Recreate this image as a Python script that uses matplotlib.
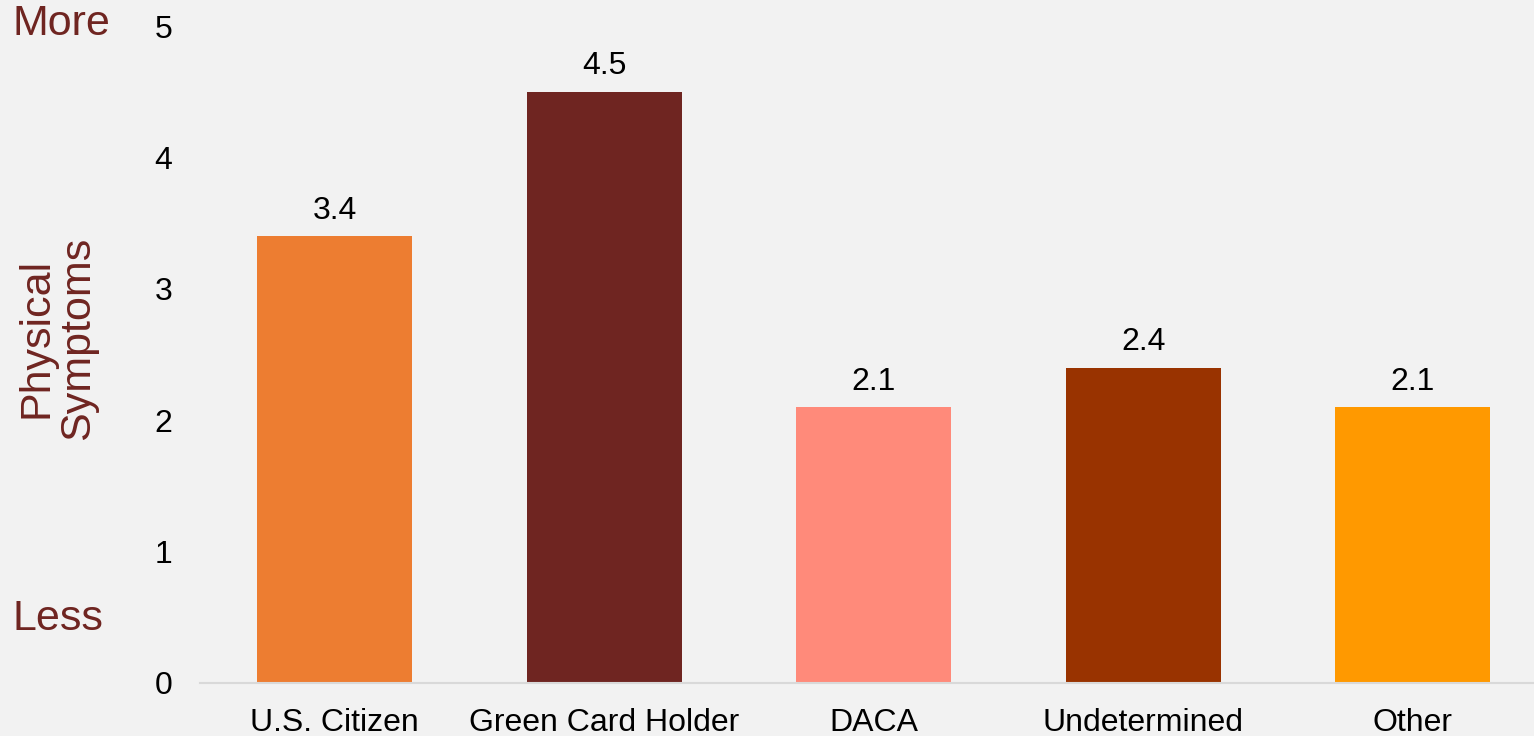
import matplotlib.pyplot as plt

plt.rcParams['font.family'] = ['Liberation Sans', 'DejaVu Sans']

categories = ['U.S. Citizen', 'Green Card Holder', 'DACA', 'Undetermined', 'Other']
values = [3.4, 4.5, 2.1, 2.4, 2.1]
bar_colors = ['#ED7D31', '#6F2521', '#FF8A7A', '#993300', '#FF9900']

bg = '#F2F2F2'
maroon = '#6F2521'

fig = plt.figure(figsize=(15.34, 7.36), dpi=100, facecolor=bg)
ax = fig.add_axes([200 / 1534, 1 - 683 / 736, 1334 / 1534, (683 - 26) / 736])
ax.set_facecolor(bg)

x = range(len(categories))
bars = ax.bar(x, values, width=0.575, color=bar_colors)

for xi, v in zip(x, values):
    ax.text(xi, v + 0.08, f'{v}', ha='center', va='bottom', fontsize=23)

ax.set_xlim(-0.5, 4.45)
ax.set_ylim(0, 5)
ax.set_yticks(range(6))
ax.set_xticks(list(x))
ax.set_xticklabels(categories)
ax.tick_params(axis='both', length=0, labelsize=23)
ax.tick_params(axis='y', pad=20)
ax.tick_params(axis='x', pad=18)

for s in ['top', 'right', 'left']:
    ax.spines[s].set_visible(False)
ax.spines['bottom'].set_color('#D9D9D9')
ax.spines['bottom'].set_linewidth(1.5)

fig.text(12 / 1534, 1 - 24 / 736, 'More', ha='left', va='center', fontsize=31, color=maroon)
fig.text(12 / 1534, 1 - 619 / 736, 'Less', ha='left', va='center', fontsize=31, color=maroon)
fig.text(57 / 1534, 1 - 338 / 736, 'Physical\nSymptoms', ha='center', va='center',
         rotation=90, fontsize=31, color=maroon, linespacing=1.05)

fig.savefig('out.png', dpi=100, facecolor=bg)
